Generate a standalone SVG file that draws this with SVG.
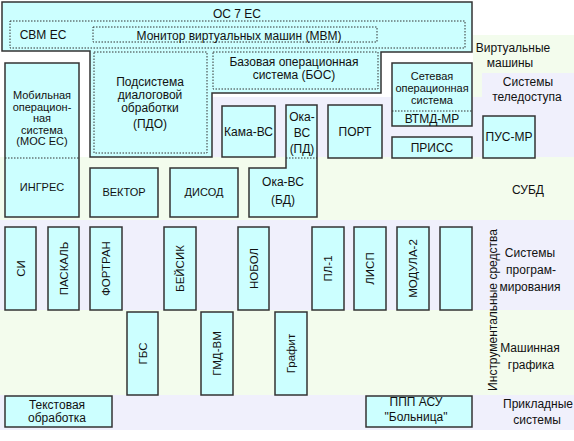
<svg xmlns="http://www.w3.org/2000/svg" width="574" height="441" viewBox="0 0 574 441">
<style>
text{font-family:"Liberation Sans",Arial,sans-serif;font-size:12px;fill:#111;text-anchor:middle}
.box{fill:#ccffff;stroke:#333;stroke-width:1.5}
.dot{fill:none;stroke:#333;stroke-width:1;stroke-dasharray:1.5 1.5}
.g{fill:#f3fced}
.l{fill:#f0f0fc}
.s{font-size:11px}
.t{font-size:11px}
.v{font-size:11.5px}
</style>
<rect width="574" height="441" fill="#ffffff"/>
<g id="bands">
<rect class="g" x="473" y="35" width="101" height="65"/>
<rect class="l" x="482" y="73" width="92" height="27"/>
<rect class="l" x="212" y="97" width="362" height="60"/>
<rect class="g" x="0" y="157" width="574" height="63"/>
<rect class="l" x="0" y="220" width="574" height="90"/>
<rect class="g" x="0" y="310" width="574" height="85"/>
<rect class="l" x="0" y="395" width="574" height="35"/>
</g>
<g id="labels">
<text x="513" y="52">Виртуальные</text>
<text x="510" y="67">машины</text>
<text x="528" y="86">Системы</text>
<text x="527" y="101">теледоступа</text>
<text x="528" y="194">СУБД</text>
<text x="530" y="257">Системы</text>
<text x="531" y="274">програм-</text>
<text x="530" y="291">мирования</text>
<text x="530" y="352">Машинная</text>
<text x="531" y="369">графика</text>
<text x="538" y="408">Прикладные</text>
<text x="537" y="424">системы</text>
<text transform="translate(493,310) rotate(-90)" x="0" y="4">Инструментальные средства</text>
</g>
<g id="os7">
<path class="box" d="M2,2 H472 V52 H381 V93 H212 V157 H90 V51 H2 Z" stroke-width="2"/>
<text x="237" y="17.5">ОС 7 ЕС</text>
</g>
<g id="svm">
<rect class="dot" x="10" y="21" width="455" height="27"/>
<text x="43" y="38.5">СВМ ЕС</text>
</g>
<g id="mvm">
<rect class="dot" x="93" y="27" width="284" height="15"/>
<text x="239" y="39.5">Монитор виртуальных машин (МВМ)</text>
</g>
<g id="pdo">
<rect class="dot" x="94" y="52" width="113" height="101"/>
<text x="150" y="86">Подсистема</text>
<text x="150" y="99">диалоговой</text>
<text x="150" y="112">обработки</text>
<text x="150" y="128">(ПДО)</text>
</g>
<g id="bos">
<rect class="dot" x="213" y="52" width="165" height="37"/>
<text x="294" y="66">Базовая операционная</text>
<text x="294" y="78.5">система (БОС)</text>
</g>
<g id="mos">
<rect class="box" x="5" y="63" width="74" height="154"/>
<line class="dot" x1="5" y1="158" x2="79" y2="158"/>
<text class="t" x="42" y="99">Мобильная</text>
<text class="t" x="42" y="110.5">операцион-</text>
<text class="t" x="42" y="122">ная</text>
<text class="t" x="42" y="133.5">система</text>
<text class="t" x="42" y="145">(МОС ЕС)</text>
<text class="s" x="42" y="191">ИНГРЕС</text>
</g>
<g id="kama">
<rect class="box" x="222" y="106" width="53" height="51"/>
<text x="248.5" y="135.5">Кама-ВС</text>
</g>
<g id="oka">
<path class="box" d="M249,168 H286 V105 H317 V217 H249 Z"/>
<line class="dot" x1="286" y1="158" x2="317" y2="158"/>
<text x="302" y="121">Ока-</text>
<text x="302" y="137">ВС</text>
<text x="302" y="153">(ПД)</text>
<text x="283" y="186">Ока-ВС</text>
<text x="283" y="204">(БД)</text>
</g>
<g id="port">
<rect class="box" x="328" y="105" width="54" height="53"/>
<text x="355" y="135.5">ПОРТ</text>
</g>
<g id="setevaya">
<rect class="box" x="392" y="63" width="80" height="63"/>
<line class="dot" x1="392" y1="111" x2="472" y2="111"/>
<text class="t" x="432" y="79.5">Сетевая</text>
<text class="t" x="432" y="91.5">операционная</text>
<text class="t" x="432" y="103.5">система</text>
<text x="432" y="122.5">ВТМД-МР</text>
</g>
<g id="priss">
<rect class="box" x="392" y="137" width="80" height="21"/>
<text x="432" y="152">ПРИСС</text>
</g>
<g id="pus">
<rect class="box" x="483" y="116" width="52" height="42"/>
<text x="509" y="140.5">ПУС-МР</text>
</g>
<g id="vektor">
<rect class="box" x="90" y="168" width="68" height="49"/>
<text class="s" x="124" y="196">ВЕКТОР</text>
</g>
<g id="disod">
<rect class="box" x="170" y="168" width="68" height="49"/>
<text class="s" x="204" y="196">ДИСОД</text>
</g>
<g id="si">
<rect class="box" x="5" y="227" width="31" height="83"/>
<text class="v" transform="translate(20.5,268.5) rotate(-90)" x="0" y="4">СИ</text>
</g>
<g id="paskal">
<rect class="box" x="48" y="227" width="31" height="83"/>
<text class="v" transform="translate(63.5,268.5) rotate(-90)" x="0" y="4">ПАСКАЛЬ</text>
</g>
<g id="fortran">
<rect class="box" x="90" y="227" width="32" height="83"/>
<text class="v" transform="translate(106,268.5) rotate(-90)" x="0" y="4">ФОРТРАН</text>
</g>
<g id="beysik">
<rect class="box" x="164" y="227" width="32" height="83"/>
<text class="v" transform="translate(180,268.5) rotate(-90)" x="0" y="4">БЕЙСИК</text>
</g>
<g id="kobol">
<rect class="box" x="238" y="227" width="31" height="83"/>
<text class="v" transform="translate(253.5,268.5) rotate(-90)" x="0" y="4">НОБОЛ</text>
</g>
<g id="pl1">
<rect class="box" x="312" y="227" width="32" height="83"/>
<text class="v" transform="translate(328,268.5) rotate(-90)" x="0" y="4">ПЛ-1</text>
</g>
<g id="lisp">
<rect class="box" x="354" y="227" width="32" height="83"/>
<text class="v" transform="translate(370,268.5) rotate(-90)" x="0" y="4">ЛИСП</text>
</g>
<g id="modula">
<rect class="box" x="397" y="227" width="32" height="83"/>
<text class="v" transform="translate(413,268.5) rotate(-90)" x="0" y="4">МОДУЛА-2</text>
</g>
<g id="empty">
<rect class="box" x="440" y="227" width="32" height="83"/>
</g>
<g id="gbs">
<rect class="box" x="127" y="312" width="31" height="83"/>
<text class="v" transform="translate(142.5,353.5) rotate(-90)" x="0" y="4">ГБС</text>
</g>
<g id="gmd">
<rect class="box" x="201" y="312" width="32" height="83"/>
<text class="v" transform="translate(217,353.5) rotate(-90)" x="0" y="4">ГМД-ВМ</text>
</g>
<g id="grafit">
<rect class="box" x="275" y="312" width="32" height="83"/>
<text class="v" transform="translate(291,353.5) rotate(-90)" x="0" y="4">Графит</text>
</g>
<g id="tekst">
<rect class="box" x="5" y="396" width="107" height="31"/>
<text x="57" y="409">Текстовая</text>
<text x="57" y="422">обработка</text>
</g>
<g id="ppp">
<rect class="box" x="366" y="396" width="106" height="31"/>
<text x="416" y="406">ППП АСУ</text>
<text x="416" y="421">"Больница"</text>
</g>
<g id="connectors"/>
</svg>
